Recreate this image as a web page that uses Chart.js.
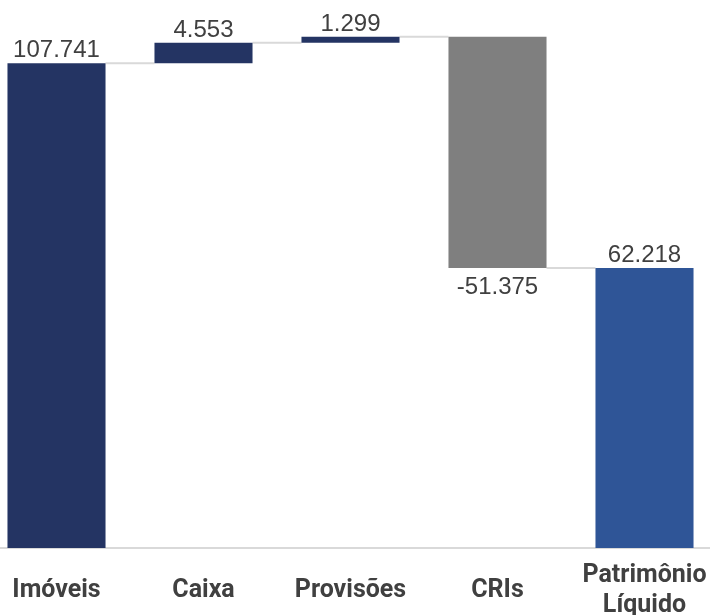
<!DOCTYPE html>
<html>
<head>
<meta charset="utf-8">
<script src="https://cdn.jsdelivr.net/npm/chart.js@4.4.0/dist/chart.umd.min.js"></script>
<style>
  html, body { margin: 0; padding: 0; background: #fff; overflow: hidden; width: 710px; height: 615px; }
  /* canvas is a bit wider than the window so the first/last bars sit where the original has them */
  #wrap { position: absolute; left: -17px; top: 0; width: 735px; height: 615px; }
</style>
</head>
<body>
<div id="wrap"><canvas id="chart" width="735" height="615"></canvas></div>
<script>
// ── Data ────────────────────────────────────────────────
const categories = ['Imóveis', 'Caixa', 'Provisões', 'CRIs', ['Patrimônio', 'Líquido']];
const deltas     = [107741, 4553, 1299, -51375, 62218];
const isTotal    = [true, false, false, false, true];
const barColors  = ['#243463', '#243463', '#243463', '#7f7f7f', '#2f5597'];

// running total → floating [start, end] ranges
let run = 0;
const ranges = deltas.map((d, i) => {
  if (isTotal[i]) { run = d; return [0, d]; }
  const start = run;
  run += d;
  return [start, run];
});

function fmt(n) {
  const s = Math.abs(n).toString().replace(/\B(?=(\d{3})+(?!\d))/g, '.');
  return (n < 0 ? '-' : '') + s;
}

// ── Connector lines between bars ────────────────────────
const connectors = {
  id: 'connectors',
  beforeDatasetsDraw(chart) {
    const ctx = chart.ctx;
    const bars = chart.getDatasetMeta(0).data;
    const y = chart.scales.y;
    ctx.save();
    ctx.strokeStyle = '#d9d9d9';
    ctx.lineWidth = 2;
    for (let i = 0; i < bars.length - 1; i++) {
      const py = y.getPixelForValue(ranges[i][1]);
      ctx.beginPath();
      ctx.moveTo(bars[i].x + bars[i].width / 2, py);
      ctx.lineTo(bars[i + 1].x - bars[i + 1].width / 2, py);
      ctx.stroke();
    }
    ctx.restore();
  }
};

// ── Value labels ────────────────────────────────────────
const valueLabels = {
  id: 'valueLabels',
  afterDatasetsDraw(chart) {
    const ctx = chart.ctx;
    const bars = chart.getDatasetMeta(0).data;
    const y = chart.scales.y;
    ctx.save();
    ctx.font = '24px "Liberation Sans", Arial, sans-serif';
    ctx.fillStyle = '#404040';
    ctx.textAlign = 'center';
    bars.forEach((bar, i) => {
      const d = deltas[i];
      if (d >= 0) {
        ctx.textBaseline = 'alphabetic';
        ctx.fillText(fmt(d), bar.x, y.getPixelForValue(ranges[i][1]) - 6);
      } else {
        ctx.textBaseline = 'top';
        ctx.fillText(fmt(d), bar.x, y.getPixelForValue(ranges[i][1]) + 7);
      }
    });
    ctx.restore();
  }
};

new Chart(document.getElementById('chart'), {
  type: 'bar',
  data: {
    labels: categories,
    datasets: [{
      data: ranges,
      backgroundColor: barColors,
      borderWidth: 0,
      categoryPercentage: 1,
      barPercentage: 0.667,
    }],
  },
  options: {
    responsive: false,
    devicePixelRatio: 1,
    animation: false,
    layout: { padding: { top: 8, left: 0, right: 0, bottom: 0 } },
    plugins: { legend: { display: false }, tooltip: { enabled: false } },
    scales: {
      x: {
        grid:   { display: false, drawTicks: false },
        border: { display: true, color: '#d9d9d9', width: 2 },
        ticks:  {
          color: '#404040',
          font: { family: 'Roboto', size: 25, weight: 'bold', lineHeight: 1.2 },
          padding: 28,
          crossAlign: 'center',
          autoSkip: false,
          maxRotation: 0,
        },
        // fixed axis height; no side padding so the five slots span the canvas
        afterFit: s => { s.height = 67; s.paddingLeft = 0; s.paddingRight = 0; },
      },
      y: { display: false, min: 0, max: 120000 },
    },
  },
  plugins: [connectors, valueLabels],
});
</script>
</body>
</html>
